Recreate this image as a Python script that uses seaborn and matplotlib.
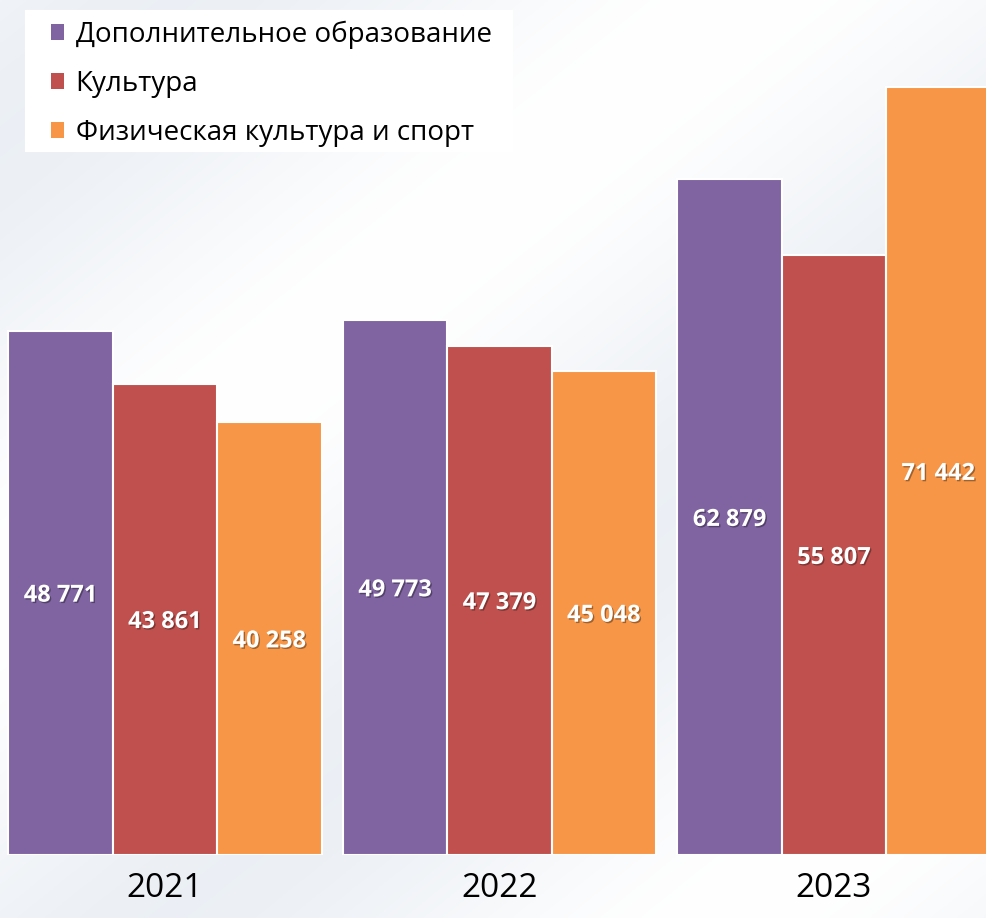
import numpy as np
import pandas as pd
import matplotlib
matplotlib.use("Agg")
import matplotlib.pyplot as plt
import matplotlib.patheffects as pe
from matplotlib.patches import Rectangle
import seaborn as sns

# Values by year and field
years = ["2021", "2022", "2023"]
series = ["Дополнительное образование", "Культура", "Физическая культура и спорт"]
dop_obr = [48771, 49773, 62879]
kultura = [43861, 47379, 55807]
sport = [40258, 45048, 71442]
colors = ["#8064A2", "#C0504D", "#F79646"]

df = pd.DataFrame({
    "year": years * 3,
    "series": [series[0]] * 3 + [series[1]] * 3 + [series[2]] * 3,
    "value": dop_obr + kultura + sport,
})

sns.set_theme(style="white")
plt.rcParams["font.family"] = ["Open Sans", "DejaVu Sans"]

W, H = 987, 918
fig = plt.figure(figsize=(W / 100, H / 100), dpi=100)

# soft diagonal background shading
bg = fig.add_axes([0, 0, 1, 1], zorder=-10)
yy, xx = np.mgrid[0:H:2, 0:W:2]
t = (xx * 0.8 + yy) / 1000.0
shade = 0.5 + 0.5 * np.sin(t * 2 * np.pi * 1.1 + 0.6)
light = np.array([1.0, 1.0, 1.0])
dark = np.array([0.925, 0.941, 0.961])
img = light[None, None, :] * (1 - shade[..., None]) + dark[None, None, :] * shade[..., None]
bg.imshow(img, extent=[0, W, H, 0], aspect="auto", interpolation="bilinear")
bg.set_xlim(0, W)
bg.set_ylim(H, 0)
bg.axis("off")

base_px = 855
ax = fig.add_axes([0, (H - base_px) / H, 1, base_px / H])
ax.patch.set_alpha(0)

sns.barplot(data=df, x="year", y="value", hue="series", hue_order=series,
            palette=colors, width=0.936, edgecolor="white", linewidth=1.5,
            saturation=1, ax=ax, legend=True)

ax.set_xlim(-0.4933, 2.4574)
ax.set_ylim(0, 79580)
ax.set_xlabel("")
ax.set_ylabel("")
ax.set_yticks([])
for s in ax.spines.values():
    s.set_visible(False)

# value labels centred inside each bar
shadow = [pe.SimplePatchShadow(offset=(1, -1), shadow_rgbFace="black", alpha=0.35), pe.Normal()]
for cont in ax.containers:
    for bar, v in zip(cont, cont.datavalues):
        ax.text(bar.get_x() + bar.get_width() / 2, v / 2 - 250,
                f"{int(v):,}".replace(",", " "),
                ha="center", va="center", color="white", fontsize=17,
                fontweight="bold", path_effects=shadow)

# year labels
ax.set_xticks(range(len(years)))
ax.set_xticklabels(years, fontsize=24, color="black")
ax.tick_params(axis="x", length=0, pad=12)

# legend on a white panel
handles, labels = ax.get_legend_handles_labels()
ax.get_legend().remove()
fig.patches.append(Rectangle((25 / W, 1 - 152 / H), (513 - 25) / W, (152 - 10) / H,
                             transform=fig.transFigure, facecolor="white",
                             edgecolor="none", zorder=5))
leg = fig.legend(handles, labels, loc="upper left",
                 bbox_to_anchor=(45 / W, 1 - 15 / H), bbox_transform=fig.transFigure,
                 frameon=False, fontsize=20, handlelength=0.5, handleheight=0.5,
                 handletextpad=0.4, labelspacing=0.75, borderaxespad=0, borderpad=0.2,
                 labelcolor="black")
leg.set_zorder(6)
for h in leg.legend_handles:
    h.set_edgecolor("none")

fig.savefig("out.png", dpi=100)
